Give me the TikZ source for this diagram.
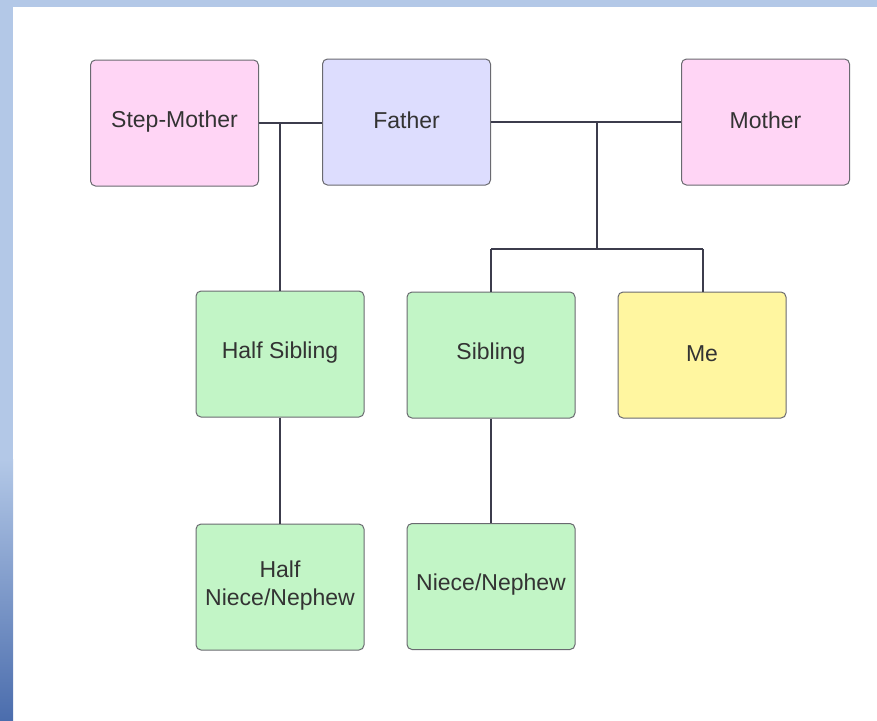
\documentclass[tikz,border=0pt]{standalone}
\usepackage{fontspec}
\setmainfont{Liberation Sans}
\definecolor{framebg}{HTML}{B3C8E7}
\definecolor{framedark}{HTML}{4B6DAD}
\definecolor{pinkfill}{HTML}{FFD5F5}
\definecolor{lavfill}{HTML}{DDDDFE}
\definecolor{greenfill}{HTML}{C2F5C6}
\definecolor{yellowfill}{HTML}{FFF6A0}
\definecolor{boxline}{HTML}{6A6A70}
\definecolor{linkline}{HTML}{3C3C4C}
\definecolor{labeltext}{HTML}{333333}
\tikzset{
  person/.style={draw=boxline, line width=1pt, rounded corners=5pt,
    minimum width=168pt, minimum height=126pt, inner sep=0pt},
  who/.style={align=center, text=labeltext, inner sep=0pt, yshift=1.5pt,
    font=\fontsize{23}{28.5}\selectfont},
  link/.style={draw=linkline, line width=1.1pt}
}
\begin{document}
\begin{tikzpicture}[x=1pt,y=-1pt]
\useasboundingbox (0,0) rectangle (877,720);
% page frame: blue strips on the left and top
\fill[white] (0,0) rectangle (877,720);
\fill[framebg] (0,0) rectangle (877,7);
\fill[framebg] (0,0) rectangle (13,460);
\shade[top color=framebg, bottom color=framedark] (0,459) rectangle (13,720);

% people
\node[person, fill=pinkfill, label={[who]center:Step-Mother}]          (stepmother) at (174.5,123) {};
\node[person, fill=lavfill, label={[who]center:Father}]                (father)     at (406.5,122) {};
\node[person, fill=pinkfill, label={[who]center:Mother}]               (mother)     at (765.5,122) {};
\node[person, fill=greenfill, label={[who]center:Half Sibling}]        (halfsib)    at (280,354)   {};
\node[person, fill=greenfill, label={[who]center:Sibling}]             (sibling)    at (491,355)   {};
\node[person, fill=yellowfill, label={[who]center:Me}]                 (me)         at (702,355)   {};
\node[person, fill=greenfill, label={[who]center:Half\\Niece/Nephew}]  (halfniece)  at (280,587)   {};
\node[person, fill=greenfill, label={[who]center:Niece/Nephew}]        (niece)      at (491,586.5) {};

% junction points
\coordinate (jstep) at (280,123);
\coordinate (jpar)  at (597,122);
\coordinate (jkids) at (597,249);
\coordinate (jsib)  at (491,249);
\coordinate (jme)   at (703,249);

% connectors
\draw[link] (stepmother.east) -- (father.west |- stepmother.east);
\draw[link] (jstep) -- (halfsib.north);
\draw[link] (father.east) -- (mother.west);
\draw[link] (jpar) -- (jkids);
\draw[link] (jsib) -- (jme);
\draw[link] (jsib) -- (sibling.north);
\draw[link] (jme) -- (jme |- me.north);
\draw[link] (halfsib.south) -- (halfniece.north);
\draw[link] (sibling.south) -- (niece.north);
\end{tikzpicture}
\end{document}
